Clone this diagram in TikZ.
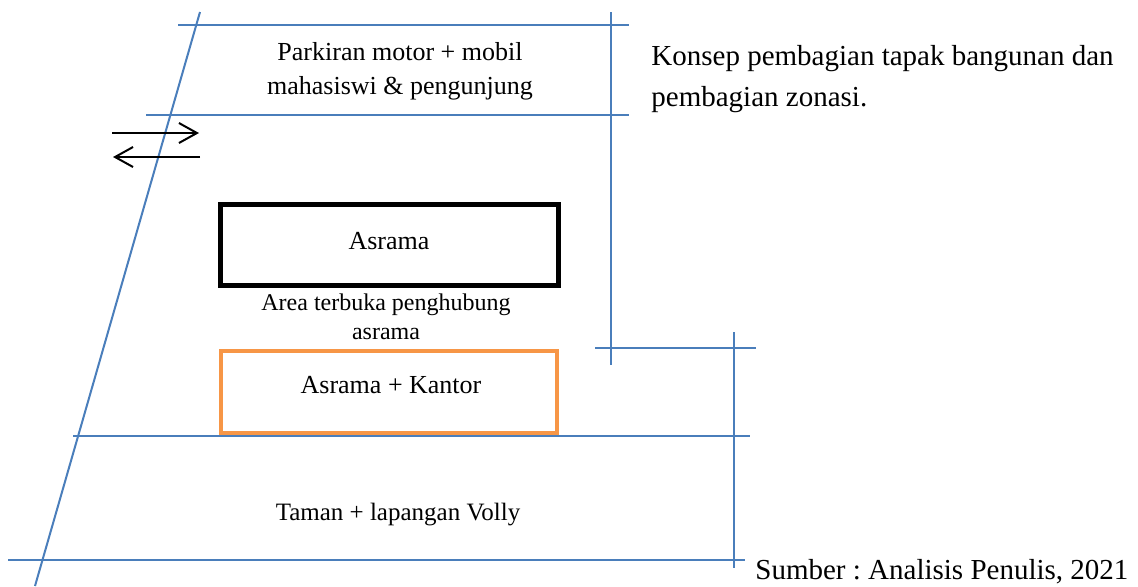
\documentclass[tikz,border=0pt]{standalone}
\usepackage{fontspec}
\setmainfont{Liberation Serif}
\usepackage{xcolor}
\usetikzlibrary{arrows.meta}

\definecolor{batasblue}{HTML}{4A7EBB}
\definecolor{kantororange}{HTML}{F79646}

\tikzset{
  batas/.style={batasblue, line width=1pt},
  arus/.style={-{Straight Barb[length=9pt,width=10pt]}, line width=1pt},
  zonetext/.style={inner sep=0pt, font=\fontsize{13}{17}\selectfont},
}
\frenchspacing

\begin{document}
\begin{tikzpicture}[x=0.5pt, y=-0.5pt]
        \useasboundingbox (0,0) rectangle (1138,586);

        % Site boundary and zone lines
        \draw[batas] (200,12) -- (35,586);
        \draw[batas] (178,25) -- (629,25);
        \draw[batas] (146,115) -- (629,115);
        \draw[batas] (611,12) -- (611,365);
        \draw[batas] (595,348) -- (756,348);
        \draw[batas] (734,332) -- (734,568);
        \draw[batas] (73,436) -- (750,436);
        \draw[batas] (8,560) -- (745,560);

        % Entrance / exit
        \draw[arus] (112,133) -- (199,133); % in
        \draw[arus] (200,157) -- (113,157); % out

        % Buildings
        \draw[line width=2.5pt] (220,204) rectangle (558,285);
        \draw[kantororange, line width=2pt] (221,351) rectangle (557,433);

        % Zone names
        \node[zonetext, anchor=north, align=center] (parkir) at (400,42) {Parkiran motor + mobil\\mahasiswi \& pengunjung};
        \node[zonetext, anchor=base] (asrama) at (389,249) {Asrama};
        \node[zonetext, font=\fontsize{12}{14.5}\selectfont, anchor=north, align=center] (terbuka) at (386,293) {Area terbuka penghubung\\asrama};
        \node[zonetext, anchor=base] (kantor) at (391,393) {Asrama + Kantor};
        \node[zonetext, font=\fontsize{12.5}{15}\selectfont, anchor=base] (taman) at (398,520) {Taman + lapangan Volly};

        % Caption
        \node[zonetext, font=\fontsize{14.5}{20.5}\selectfont, anchor=north west, align=left] (konsep) at (651,45) {Konsep pembagian tapak bangunan dan\\pembagian zonasi.};
        \node[zonetext, font=\fontsize{14.5}{17}\selectfont, anchor=base west] (sumber) at (755,579) {Sumber : Analisis Penulis, 2021};
    \end{tikzpicture}
\end{document}
